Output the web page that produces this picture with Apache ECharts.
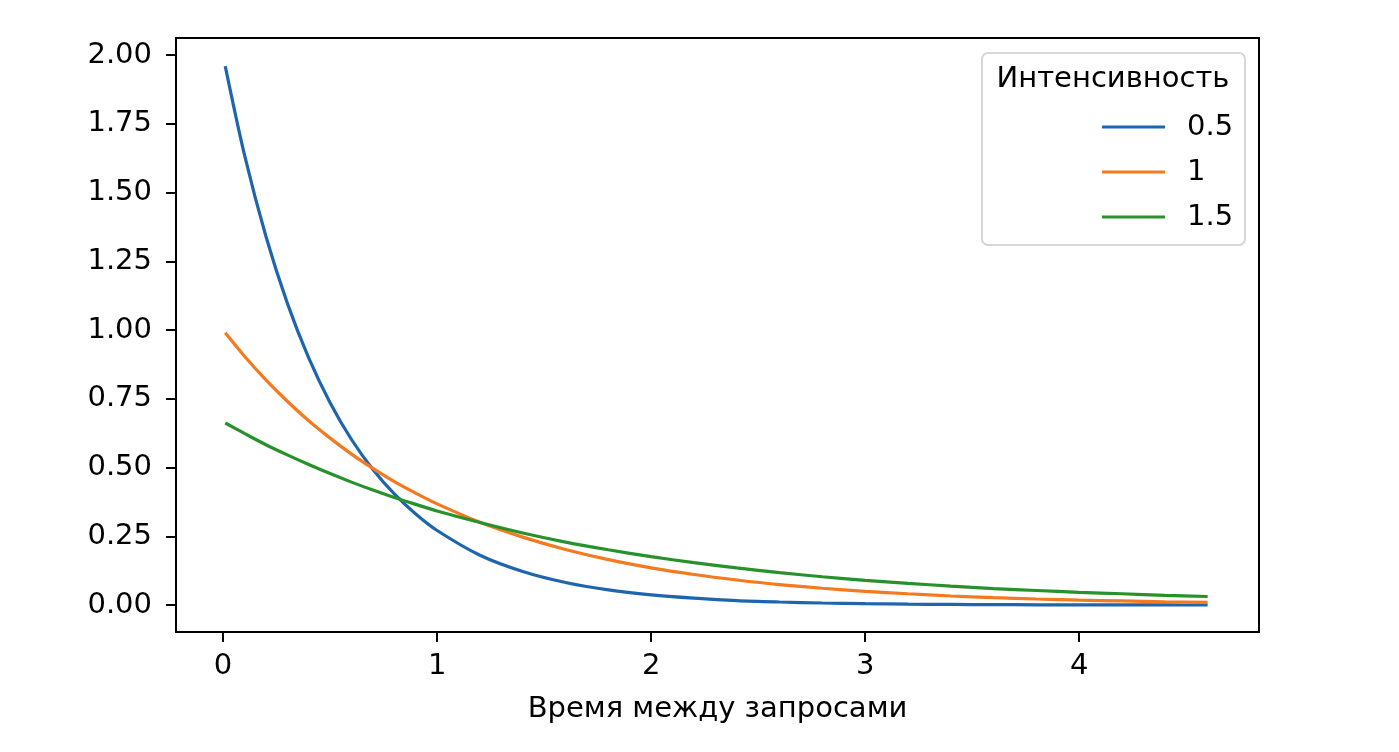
<!DOCTYPE html>
<html>
<head>
<meta charset="utf-8">
<script src="https://cdn.jsdelivr.net/npm/echarts@6/dist/echarts.min.js"></script>
<style>
  html, body { margin: 0; padding: 0; background: #fff; }
  #chart { width: 1399px; height: 752px; }
</style>
</head>
<body>
<div id="chart"></div>
<script>
var chartDom = document.getElementById('chart');
var myChart = echarts.init(chartDom);

// time between requests
var xValues = [0.01, 0.1, 0.2, 0.3, 0.4, 0.5, 0.6, 0.7, 0.8, 0.9, 1.0, 1.2, 1.4, 1.6, 1.8,
  2.0, 2.2, 2.4, 2.6, 2.8, 3.0, 3.2, 3.4, 3.6, 3.8, 4.0, 4.2, 4.4, 4.6];

var intensity05 = [1.960, 1.637, 1.341, 1.098, 0.899, 0.736, 0.602, 0.493, 0.404, 0.331, 0.271,
  0.181, 0.122, 0.082, 0.055, 0.037, 0.025, 0.016, 0.011, 0.0074, 0.005, 0.0033, 0.0022,
  0.0015, 0.001, 0.0007, 0.0004, 0.0003, 0.0002];
var intensity1 = [0.990, 0.905, 0.819, 0.741, 0.670, 0.607, 0.549, 0.497, 0.449, 0.407, 0.368,
  0.301, 0.247, 0.202, 0.165, 0.135, 0.111, 0.091, 0.074, 0.061, 0.050, 0.041, 0.033,
  0.027, 0.022, 0.018, 0.015, 0.012, 0.010];
var intensity15 = [0.662, 0.624, 0.583, 0.546, 0.511, 0.478, 0.447, 0.418, 0.391, 0.366, 0.342,
  0.300, 0.262, 0.229, 0.201, 0.176, 0.154, 0.135, 0.118, 0.103, 0.090, 0.079, 0.069,
  0.060, 0.053, 0.046, 0.041, 0.035, 0.031];

var seriesNames = ['0.5', '1', '1.5'];
var seriesColors = ['#1f65ad', '#f47a1f', '#27912b'];
var xTicks = [0, 1, 2, 3, 4];
var yTicks = [0, 0.25, 0.5, 0.75, 1.0, 1.25, 1.5, 1.75, 2.0];

function pairs(ys) {
  return xValues.map((x, i) => [x, ys[i]]);
}

var font = 'DejaVu Sans';
var fs = 29;

var option = {
  animation: false,
  textStyle: { fontFamily: font },
  grid: {
    left: 176, right: 140, top: 38, bottom: 120,
    show: true, borderColor: '#000', borderWidth: 2
  },
  xAxis: {
    type: 'value',
    min: -0.22, max: 4.84,
    name: 'Время между запросами',
    nameLocation: 'middle',
    nameGap: 63,
    nameTextStyle: { fontFamily: font, fontSize: fs, color: '#000' },
    axisLine: { show: false, onZero: false },
    splitLine: { show: false },
    axisTick: { show: true, customValues: xTicks, length: 10, lineStyle: { color: '#000', width: 2 } },
    axisLabel: { customValues: xTicks, fontFamily: font, fontSize: fs, color: '#000', margin: 20 }
  },
  yAxis: {
    type: 'value',
    min: -0.098, max: 2.062,
    axisLine: { show: false, onZero: false },
    splitLine: { show: false },
    axisTick: { show: true, customValues: yTicks, length: 10, lineStyle: { color: '#000', width: 2 } },
    axisLabel: {
      customValues: yTicks, fontFamily: font, fontSize: fs, color: '#000', margin: 24,
      formatter: v => v.toFixed(2)
    }
  },
  legend: {
    orient: 'vertical',
    left: 1097, top: 107,
    icon: 'rect',
    itemWidth: 63, itemHeight: 3,
    itemGap: 15,
    textStyle: { fontFamily: font, fontSize: fs, color: '#000', lineHeight: 30, padding: [0, 0, 0, 17] },
    data: seriesNames
  },
  graphic: [
    {
      type: 'rect', z: 3,
      shape: { x: 982, y: 53, width: 263, height: 192, r: 6 },
      style: { fill: 'rgba(255,255,255,0.8)', stroke: '#d6d6d6', lineWidth: 2 }
    },
    {
      type: 'text', z: 5,
      x: 1113, y: 79,
      style: { text: 'Интенсивность', font: fs + 'px "DejaVu Sans"', fill: '#000', align: 'center', verticalAlign: 'middle' }
    }
  ],
  series: [intensity05, intensity1, intensity15].map((ys, i) => ({
    name: seriesNames[i],
    type: 'line',
    data: pairs(ys),
    smooth: 0.3,
    symbol: 'none',
    color: seriesColors[i],
    lineStyle: { width: 3.2, color: seriesColors[i] }
  }))
};

option && myChart.setOption(option);
</script>
</body>
</html>
